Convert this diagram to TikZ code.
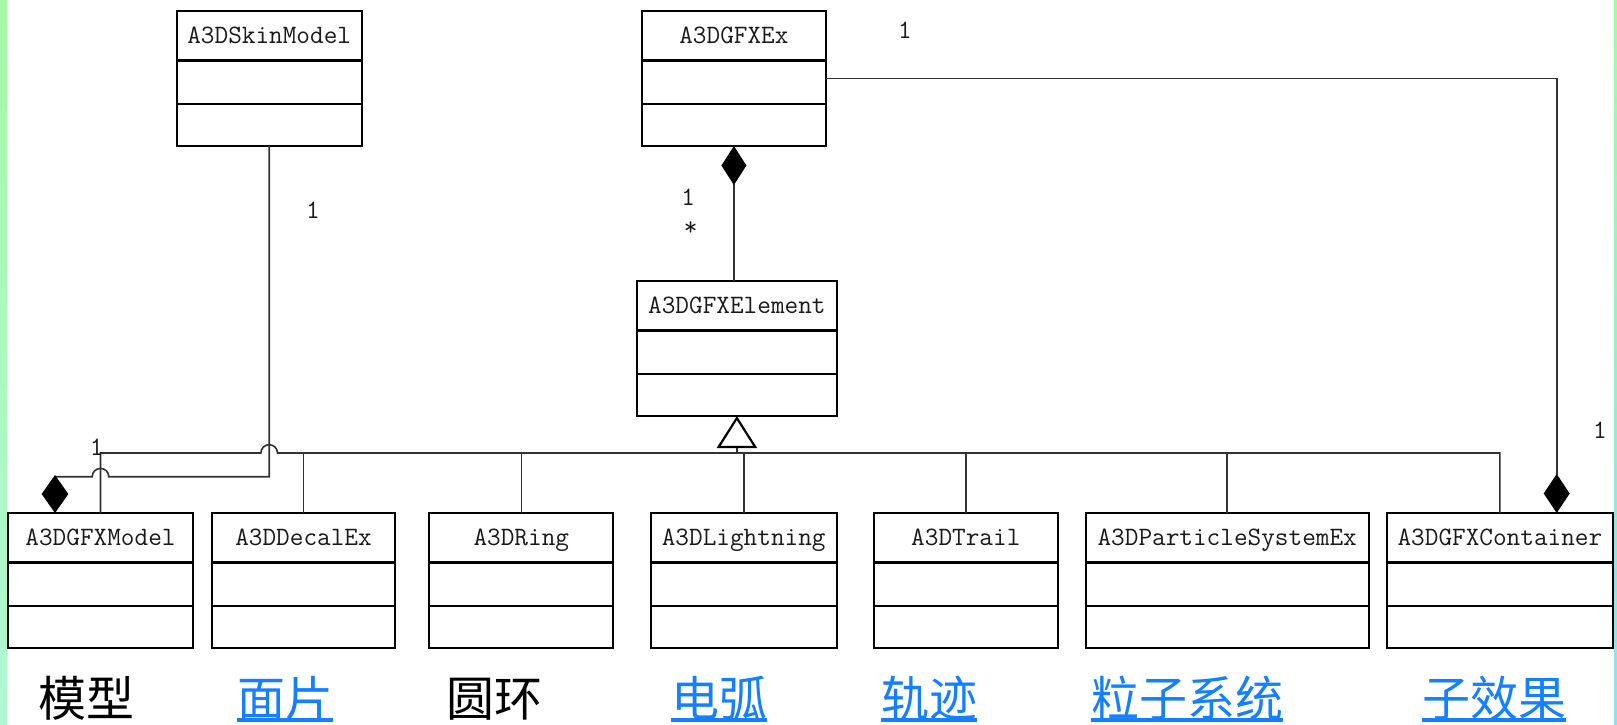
\documentclass[tikz,border=0pt]{standalone}
\usepackage{fontspec}
\newfontfamily\cjk{Noto Sans CJK SC}
\usetikzlibrary{arrows.meta,calc}
\definecolor{linkblue}{RGB}{20,128,255}
\definecolor{conncol}{RGB}{50,50,50}
\definecolor{txtcol}{RGB}{25,25,25}
\definecolor{stripeA}{RGB}{166,248,168}
\definecolor{stripeB}{RGB}{176,248,212}
\definecolor{stripeC}{RGB}{150,222,236}
\tikzset{
  classbox/.style={rectangle, draw=black, line width=2.2pt, minimum height=135pt, inner sep=0pt, outer sep=0pt},
  classline/.style={draw=black, line width=2.2pt},
  classname/.style={anchor=base, inner sep=0pt, text=txtcol, font=\ttfamily\fontsize{26.5}{30}\selectfont},
  mult/.style={anchor=base, inner sep=0pt, text=txtcol, font=\ttfamily\fontsize{26.5}{30}\selectfont},
  conn/.style={draw=conncol, line width=1.6pt},
  cjklabel/.style={anchor=base, inner sep=0pt, font=\cjk\fontsize{48}{52}\selectfont},
  linklabel/.style={cjklabel, text=linkblue},
  plainlabel/.style={cjklabel, text=black},
  uline/.style={draw=linkblue, line width=4.5pt}
}
\newcommand\umlclass[5]{% name, center x, width, top y, text
  \node[classbox, minimum width=#3pt] (#1) at (#2,#4+67.5) {};
  \draw[classline] ($(#1.north west)+(0,49.5)$) -- ($(#1.north east)+(0,49.5)$);
  \draw[classline] ($(#1.north west)+(0,93)$) -- ($(#1.north east)+(0,93)$);
  \node[classname] (#1-t) at ($(#1.north)+(0,32.6)$) {#5};
}
\begin{document}
\begin{tikzpicture}[x=1pt,y=-1pt]
\useasboundingbox (0,0) rectangle (1617,724);
\fill[white] (0,0) rectangle (1617,724);
\shade[top color=stripeA, bottom color=stripeB] (0,0) rectangle (7,724);
\shade[top color=stripeA, bottom color=stripeC] (1614,0) rectangle (1617,724);

% classes
\umlclass{skin}{269.2}{185}{11}{A3DSkinModel}
\umlclass{gfxex}{733.9}{184.3}{11}{A3DGFXEx}
\umlclass{elem}{736.9}{200.3}{281}{A3DGFXElement}
\umlclass{model}{100.5}{184.4}{513}{A3DGFXModel}
\umlclass{decal}{303.5}{183}{513}{A3DDecalEx}
\umlclass{ring}{521.3}{184}{513}{A3DRing}
\umlclass{light}{743.7}{186}{513}{A3DLightning}
\umlclass{trail}{965.8}{184.3}{513}{A3DTrail}
\umlclass{particle}{1227.2}{282.9}{513}{A3DParticleSystemEx}
\umlclass{container}{1499.9}{226.2}{513}{A3DGFXContainer}

% helper rows
\coordinate (bus) at (0,453);
\coordinate (skinrow) at (0,476.7);

% inheritance
\draw[conn, {Triangle[open, length=32pt, width=40pt, line width=2.2pt, color=black]}-] (elem.south) -- (elem.south |- bus);
\draw[conn] (model.north) -- (model.north |- bus) -- ($(skin.south |- bus)+(-8.3,0)$)
  arc[start angle=180, end angle=0, radius=8.3pt] -- (container.north |- bus) -- (container.north);
\foreach \n in {decal,ring,light,trail,particle}
  \draw[conn] (\n.north) -- (\n.north |- bus);

% compositions
\draw[conn, {Diamond[length=39pt, width=25pt, color=black]}-] (gfxex.south) -- (gfxex.south |- elem.north);
\draw[conn, -{Diamond[length=39pt, width=26pt, color=black]}] (gfxex.east) -| ($(container.north)+(56.8,0)$);
\draw[conn, -{Diamond[length=38pt, width=26.7pt, color=black]}] (skin.south) -- (skin.south |- skinrow)
  -- ($(model.north |- skinrow)+(8.3,0)$) arc[start angle=0, end angle=180, radius=8.3pt]
  -- ($(model.north |- skinrow)+(-45.5,0)$) -- ($(model.north)+(-45.5,0)$);

% multiplicities
\node[mult] (m1) at (905,38.3) {1};
\node[mult] (m2) at (313,218.3) {1};
\node[mult] (m3) at (688.3,205) {1};
\node[mult] (m4) at (690.7,235) {*};
\node[mult] (m5) at (96.7,455) {1};
\node[mult] (m6) at (1600,438.3) {1};

% captions
\node[plainlabel] (c1) at (86.7,716) {模型};
\node[linklabel] (c2) at (285,716) {面片};
\node[plainlabel] (c3) at (494,716) {圆环};
\node[linklabel] (c4) at (719,716) {电弧};
\node[linklabel] (c5) at (929,716) {轨迹};
\node[linklabel] (c6) at (1187,716) {粒子系统};
\node[linklabel] (c7) at (1494,716) {子效果};
\foreach \c in {c2,c4,c5,c6,c7}
  \draw[uline] ([yshift=-4pt]\c.base west) -- ([yshift=-4pt]\c.base east);
\end{tikzpicture}
\end{document}
